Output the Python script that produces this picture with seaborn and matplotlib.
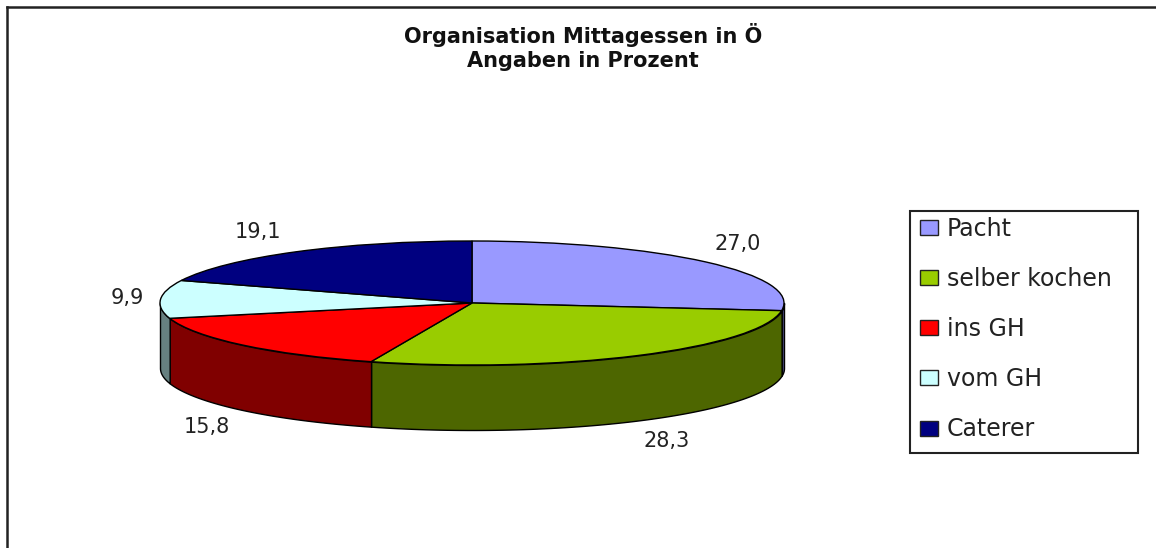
import numpy as np
import matplotlib
matplotlib.use("Agg")
import matplotlib.pyplot as plt
import seaborn as sns
from matplotlib.patches import Patch, Rectangle

categories = ["Pacht", "selber kochen", "ins GH", "vom GH", "Caterer"]
values = [27.0, 28.3, 15.8, 9.9, 19.1]
value_labels = ["27,0", "28,3", "15,8", "9,9", "19,1"]
top_colors = ["#9999FF", "#99CC00", "#FF0000", "#CCFFFF", "#000080"]
side_colors = ["#4D4D80", "#4D6600", "#800000", "#668080", "#000040"]

W, H = 1156, 548
CX, CY = 472, 303   # pie centre in pixels
RX, RY = 312, 62    # ellipse radii in pixels
DEPTH = 65 / RY     # wall height in pie units

sns.set_theme(style="white")
plt.rcParams["font.family"] = ["DejaVu Sans"]


def px(x, y):
    return x / W, 1 - y / H


fig = plt.figure(figsize=(W / 100, H / 100), dpi=100)
ax = fig.add_axes([7 / W, 0, (W - 7) / W, (H - 7) / H])

# top of the pie, squashed into an ellipse by the auto aspect
ax.pie(values, colors=sns.color_palette(top_colors), startangle=90, counterclock=False,
       wedgeprops={"edgecolor": "black", "linewidth": 1.0, "zorder": 3})
ax.set_aspect("auto")
ax.set_xlim((7 - CX) / RX, (W - CX) / RX)
ax.set_ylim((CY - H) / RY, (CY - 7) / RY)

# walls: only the part of each slice on the front half is visible
total = sum(values)
start = 90.0
for val, col in zip(values, side_colors):
    end = start - val / total * 360
    lo, hi = max(end, -180), min(start, 0)
    if lo < hi:
        t = np.radians(np.linspace(lo, hi, 80))
        x = np.cos(t)
        y = np.sin(t)
        ax.fill_between(x, y, y - DEPTH, facecolor=col, edgecolor="black", linewidth=1.0, zorder=2)
    start = end

# frame only on top and left, the rest is cut off in the source
ax.set_frame_on(True)
for side, spine in ax.spines.items():
    spine.set_visible(side in ("top", "left"))
    spine.set_color("#222222")
    spine.set_linewidth(1.8)

fig.text(*px(583, 35), "Organisation Mittagessen in Ö", ha="center", va="center",
         fontsize=15, fontweight="bold", color="#111111")
fig.text(*px(583, 61), "Angaben in Prozent", ha="center", va="center",
         fontsize=15, fontweight="bold", color="#111111")

label_pos = [(738, 244), (667, 441), (207, 427), (127, 298), (258, 232)]
for lab, pos in zip(value_labels, label_pos):
    fig.text(*px(*pos), lab, ha="center", va="center", fontsize=15, color="#222222")

# legend box drawn apart, its padding is uneven in the source
x0, y0 = px(910, 453)
x1, y1 = px(1138, 211)
fig.add_artist(Rectangle((x0, y0), x1 - x0, y1 - y0, transform=fig.transFigure,
                         facecolor="white", edgecolor="#222222", linewidth=1.5, zorder=4))

handles = [Patch(facecolor=c, edgecolor="#222222", linewidth=1.0) for c in top_colors]
leg = fig.legend(handles, categories, loc="upper left", bbox_to_anchor=px(920, 217),
                 bbox_transform=fig.transFigure, borderaxespad=0, fontsize=17,
                 frameon=False, labelspacing=1.105, handlelength=0.76, handleheight=0.6,
                 handletextpad=0.38, borderpad=0, labelcolor="#222222")
leg.set_zorder(5)

fig.savefig("out.png", dpi=100)
